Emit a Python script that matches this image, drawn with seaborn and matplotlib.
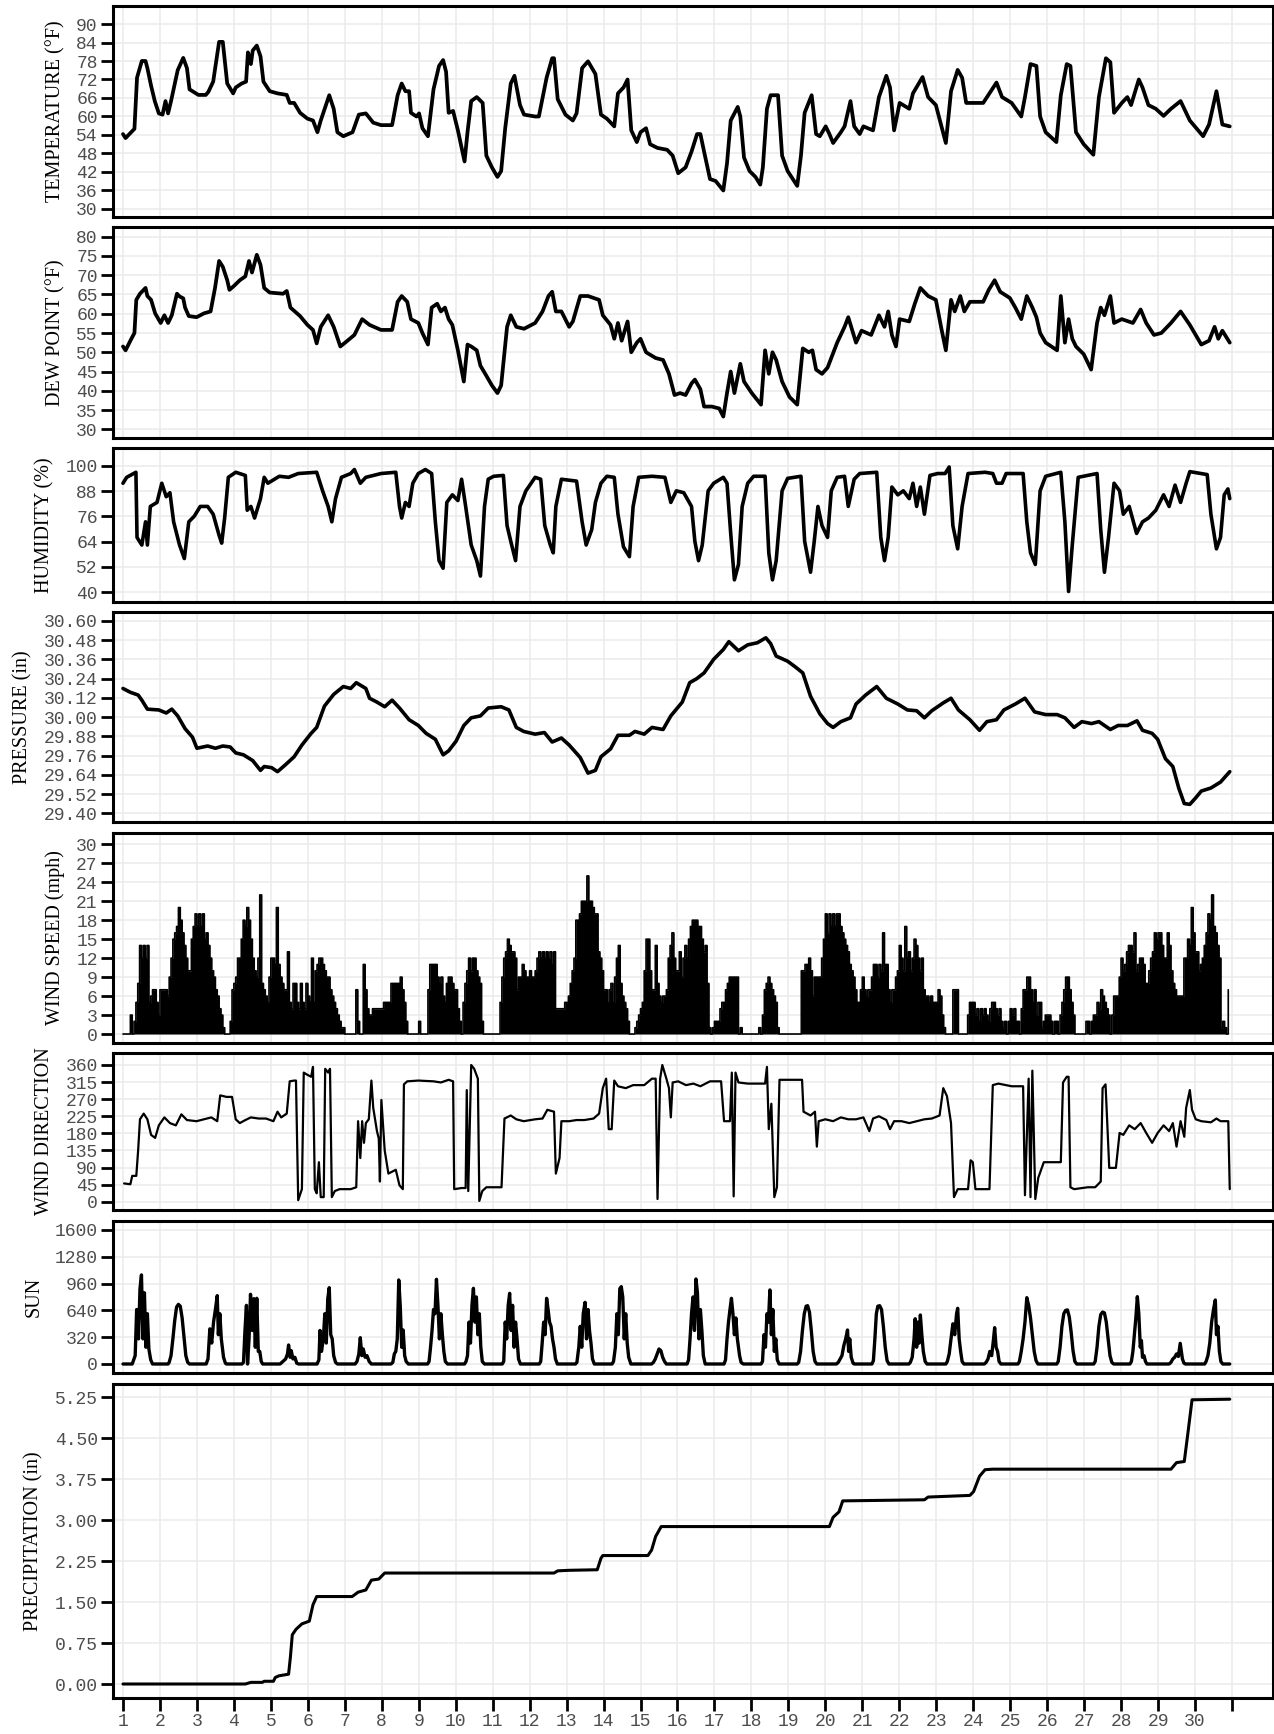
import numpy as np
import pandas as pd
import matplotlib
matplotlib.use("Agg")
import matplotlib.pyplot as plt
import seaborn as sns

# ---------------- data (day of month, value) ----------------
TEMP = [(1.00,54.3),(1.07,53.0),(1.31,56.0),(1.38,72.6),(1.51,78.0),(1.61,78.0),(1.66,75.7),(1.76,70.0),(1.86,65.0),(1.97,61.0),
        (2.07,60.6),(2.15,65.0),(2.22,61.0),(2.30,65.0),(2.48,75.0),(2.63,79.0),(2.73,75.7),(2.80,68.8),(3.04,67.0),(3.24,67.0),
        (3.31,68.0),(3.44,71.3),(3.60,84.2),(3.70,84.2),(3.82,70.7),(3.98,67.5),(4.05,69.4),(4.21,70.7),(4.33,71.3),(4.38,80.8),
        (4.46,77.0),(4.51,81.4),(4.62,83.0),(4.72,79.5),(4.80,71.3),(4.97,68.2),(5.18,67.5),(5.43,67.0),(5.51,64.4),(5.63,64.4),
        (5.79,61.2),(5.99,59.3),(6.14,58.7),(6.26,54.9),(6.35,58.7),(6.58,66.9),(6.70,62.5),(6.80,54.9),(6.96,53.6),(7.21,54.9),
        (7.38,60.6),(7.57,61.0),(7.77,58.0),(7.98,57.2),(8.28,57.2),(8.43,66.9),(8.54,70.7),(8.64,68.2),(8.74,68.2),(8.79,61.2),
        (8.94,60.0),(9.01,61.0),(9.10,56.2),(9.25,53.6),(9.40,68.8),(9.55,76.4),(9.66,78.3),(9.74,74.5),(9.81,61.2),(9.93,61.8),
        (10.06,55.5),(10.24,45.4),(10.32,54.9),(10.42,65.0),(10.57,66.3),(10.73,64.4),(10.83,47.3),(10.98,43.5),(11.13,40.4),(11.23,42.3),
        (11.34,56.2),(11.49,70.7),(11.59,73.2),(11.74,63.7),(11.85,60.6),(12.15,60.0),(12.25,60.0),(12.46,72.6),(12.61,78.9),(12.66,78.9),
        (12.76,65.6),(12.97,60.6),(13.17,58.7),(13.27,61.0),(13.42,75.7),(13.58,77.9),(13.78,73.8),(13.93,60.6),(14.09,59.3),(14.29,56.8),
        (14.39,67.5),(14.54,69.4),(14.65,72.0),(14.75,55.5),(14.90,51.7),(15.00,54.9),(15.15,56.2),(15.26,51.0),(15.46,49.8),(15.72,49.2),
        (15.87,47.3),(16.02,41.6),(16.22,43.5),(16.38,48.6),(16.53,54.3),(16.62,54.3),(16.72,48.6),(16.88,39.7),(17.03,39.1),(17.24,36.0),
        (17.34,44.8),(17.44,58.7),(17.63,63.1),(17.70,60.0),(17.80,46.7),(17.95,42.3),(18.11,40.4),(18.24,37.9),(18.31,43.5),(18.42,62.5),
        (18.52,66.9),(18.72,66.9),(18.83,47.3),(18.98,42.3),(19.24,37.5),(19.34,47.3),(19.44,61.2),(19.63,66.9),(19.75,54.3),(19.85,53.6),
        (20.01,56.8),(20.11,54.3),(20.21,51.4),(20.42,54.9),(20.52,56.8),(20.68,65.0),(20.78,56.8),(20.93,54.3),(21.03,56.8),(21.29,55.5),
        (21.45,66.3),(21.65,73.2),(21.75,69.4),(21.86,55.5),(22.01,64.4),(22.27,62.5),(22.37,67.5),(22.63,72.8),(22.78,66.3),(22.99,63.7),
        (23.26,51.4),(23.40,68.2),(23.58,75.1),(23.70,72.6),(23.81,64.4),(24.27,64.4),(24.63,71.0),(24.78,66.3),(25.04,64.4),(25.30,60.0),
        (25.40,66.3),(25.55,77.0),(25.71,76.4),(25.81,60.0),(25.96,54.9),(26.25,51.7),(26.37,66.9),(26.53,77.0),(26.63,76.4),(26.78,54.9),
        (26.99,51.0),(27.25,47.6),(27.40,66.3),(27.59,78.9),(27.71,77.6),(27.81,61.2),(28.02,64.4),(28.17,66.3),(28.27,63.7),(28.48,72.0),
        (28.58,69.4),(28.74,63.7),(28.94,62.5),(29.15,60.2),(29.35,62.5),(29.61,65.0),(29.86,58.7),(30.22,53.6),(30.38,57.4),(30.58,68.2),
        (30.74,57.4),(30.94,56.8)]

DEWPOINT = [(1.00,51.5),(1.07,50.5),(1.20,53.0),(1.31,55.0),(1.36,63.6),(1.46,65.2),(1.61,66.7),(1.66,64.6),(1.76,63.6),(1.87,60.1),
        (2.02,57.6),(2.12,59.6),(2.22,57.6),(2.32,59.6),(2.46,65.2),(2.53,64.5),(2.63,64.0),(2.68,61.6),(2.78,59.4),(2.99,59.1),
        (3.19,60.1),(3.37,60.6),(3.49,66.7),(3.60,73.7),(3.70,72.2),(3.82,68.7),(3.88,66.2),(4.00,67.2),(4.16,68.7),(4.31,69.7),
        (4.41,73.7),(4.49,70.7),(4.62,75.3),(4.72,72.7),(4.82,66.7),(4.97,65.5),(5.33,65.2),(5.43,65.9),(5.53,61.6),(5.79,59.4),
        (5.99,57.1),(6.14,55.8),(6.24,52.3),(6.35,56.6),(6.55,59.6),(6.70,56.6),(6.88,51.5),(7.01,52.5),(7.26,54.5),(7.47,58.6),
        (7.67,57.1),(7.98,55.8),(8.28,55.8),(8.43,63.1),(8.54,64.6),(8.69,63.1),(8.79,58.6),(8.99,57.6),(9.10,55.0),(9.25,52.0),
        (9.35,61.6),(9.50,62.6),(9.60,60.6),(9.71,61.6),(9.81,58.6),(9.91,57.1),(10.06,50.5),(10.22,42.4),(10.32,52.0),(10.42,51.5),
        (10.57,50.5),(10.67,46.5),(10.83,43.9),(10.98,41.4),(11.13,39.4),(11.23,41.4),(11.39,56.6),(11.49,59.6),(11.64,56.6),(11.85,56.1),
        (12.15,57.6),(12.35,60.6),(12.51,64.6),(12.61,65.7),(12.71,60.6),(12.86,60.6),(13.07,56.6),(13.17,58.0),(13.37,64.6),(13.58,64.6),
        (13.88,63.6),(13.98,59.6),(14.19,57.1),(14.29,53.5),(14.39,57.6),(14.49,53.0),(14.65,58.0),(14.75,50.0),(14.90,52.5),(15.00,53.5),
        (15.15,50.0),(15.41,48.5),(15.61,48.0),(15.77,44.4),(15.92,38.9),(16.07,39.4),(16.22,38.9),(16.38,41.9),(16.47,42.9),(16.62,40.4),
        (16.72,35.9),(16.93,35.9),(17.13,35.4),(17.24,33.3),(17.34,39.4),(17.44,45.0),(17.54,39.4),(17.70,47.0),(17.80,42.4),(18.01,39.4),
        (18.26,36.4),(18.37,50.5),(18.47,44.4),(18.57,50.0),(18.67,48.0),(18.83,42.4),(19.03,38.4),(19.24,36.4),(19.39,51.0),(19.55,50.0),
        (19.65,50.5),(19.75,45.5),(19.91,44.4),(20.06,46.0),(20.32,52.5),(20.52,56.6),(20.62,59.1),(20.83,52.5),(20.98,55.6),(21.24,54.5),
        (21.45,59.6),(21.60,56.6),(21.70,60.6),(21.80,54.5),(21.91,51.5),(22.01,58.6),(22.27,58.0),(22.42,62.6),(22.57,66.7),(22.78,64.6),
        (22.99,63.6),(23.14,56.1),(23.26,50.5),(23.40,63.6),(23.50,60.6),(23.65,64.6),(23.76,60.6),(23.91,63.1),(24.27,63.1),(24.42,66.2),
        (24.58,68.7),(24.73,65.7),(24.99,64.1),(25.14,61.6),(25.30,58.6),(25.45,64.6),(25.60,61.6),(25.71,59.1),(25.81,55.0),(25.96,52.5),
        (26.27,50.5),(26.37,64.6),(26.48,52.5),(26.58,58.6),(26.68,53.5),(26.78,51.5),(26.99,49.5),(27.19,45.5),(27.35,57.6),(27.45,61.6),
        (27.55,59.6),(27.71,64.6),(27.81,57.6),(28.02,58.6),(28.32,57.6),(28.53,61.1),(28.68,57.6),(28.89,54.5),(29.09,55.0),(29.35,57.6),
        (29.61,60.6),(29.86,57.1),(30.17,52.0),(30.38,53.0),(30.53,56.6),(30.63,53.5),(30.74,55.6),(30.94,52.5)]

HUMIDITY = [(1.00,91.7),(1.10,94.5),(1.35,96.9),(1.38,66.0),(1.51,62.4),(1.61,73.4),(1.66,62.4),(1.74,80.7),(1.92,82.6),(2.05,91.7),
        (2.17,85.3),(2.27,87.2),(2.37,73.4),(2.53,62.4),(2.66,56.0),(2.78,73.4),(2.93,76.1),(3.09,80.7),(3.29,80.7),(3.44,77.0),
        (3.60,67.0),(3.67,63.3),(3.75,75.2),(3.85,94.5),(4.05,96.9),(4.31,95.4),(4.36,78.9),(4.46,80.7),(4.56,75.2),(4.72,84.4),
        (4.82,94.5),(4.92,91.7),(5.23,95.0),(5.48,94.5),(5.74,96.3),(6.24,96.9),(6.40,88.1),(6.55,80.7),(6.65,73.4),(6.75,84.4),
        (6.91,94.5),(7.16,96.3),(7.26,98.2),(7.42,91.7),(7.57,94.5),(7.98,96.3),(8.38,96.9),(8.48,80.7),(8.54,75.2),(8.64,82.6),
        (8.74,80.7),(8.84,91.7),(8.99,96.3),(9.18,98.2),(9.35,96.3),(9.45,73.4),(9.55,55.0),(9.66,51.4),(9.76,82.6),(9.91,86.2),
        (10.06,83.5),(10.16,93.6),(10.27,80.7),(10.42,62.4),(10.57,55.0),(10.67,47.7),(10.78,80.7),(10.88,93.6),(11.03,95.0),(11.29,95.4),
        (11.39,71.6),(11.49,64.2),(11.62,55.0),(11.74,80.7),(11.90,88.1),(12.15,94.5),(12.30,93.6),(12.41,71.6),(12.56,62.4),(12.64,58.7),
        (12.71,80.7),(12.86,93.6),(13.27,92.7),(13.42,73.4),(13.53,62.4),(13.68,69.7),(13.78,82.6),(13.93,91.7),(14.09,95.0),(14.29,94.5),
        (14.39,77.0),(14.54,61.5),(14.70,56.9),(14.80,80.7),(14.95,94.5),(15.31,95.0),(15.66,94.5),(15.82,82.6),(15.97,88.1),(16.17,87.2),
        (16.38,80.7),(16.47,64.2),(16.57,55.0),(16.67,62.4),(16.83,88.1),(16.98,91.7),(17.24,94.5),(17.34,91.7),(17.44,67.9),(17.54,45.9),
        (17.65,53.2),(17.75,80.7),(17.90,91.7),(18.06,95.0),(18.37,95.0),(18.47,58.7),(18.57,45.9),(18.67,55.0),(18.83,88.1),(18.98,94.0),
        (19.34,95.0),(19.44,64.2),(19.60,49.5),(19.70,64.2),(19.80,80.7),(19.91,71.6),(20.06,66.0),(20.16,88.1),(20.32,94.5),(20.52,95.0),
        (20.62,80.7),(20.78,93.6),(20.93,96.3),(21.39,96.9),(21.50,66.0),(21.60,55.0),(21.70,66.0),(21.80,89.9),(21.96,86.2),(22.11,88.1),
        (22.27,84.4),(22.37,91.7),(22.47,80.7),(22.57,89.9),(22.68,77.0),(22.83,95.4),(23.04,96.3),(23.24,96.3),(23.35,99.4),(23.45,71.6),
        (23.58,60.6),(23.70,80.7),(23.86,96.3),(24.32,96.9),(24.53,96.3),(24.63,91.7),(24.78,91.7),(24.89,96.3),(25.35,96.3),(25.45,73.4),
        (25.55,58.7),(25.68,53.2),(25.81,88.1),(25.96,95.0),(26.37,96.9),(26.48,73.4),(26.58,40.4),(26.68,62.4),(26.84,94.5),(27.35,96.3),
        (27.45,69.7),(27.55,49.5),(27.66,66.0),(27.81,91.7),(27.96,88.1),(28.06,77.0),(28.22,80.7),(28.42,67.9),(28.58,73.4),(28.74,75.2),
        (28.94,78.9),(29.15,86.2),(29.30,80.7),(29.46,90.8),(29.61,82.6),(29.76,91.7),(29.86,97.2),(30.33,95.8),(30.43,77.0),(30.58,60.6),
        (30.69,66.0),(30.79,86.2),(30.89,89.0),(30.94,84.4)]

PRESSURE = [(1.00,30.179),(1.20,30.155),(1.41,30.138),(1.51,30.106),(1.66,30.050),(1.97,30.045),(2.17,30.026),(2.32,30.050),(2.48,30.008),
        (2.68,29.928),(2.88,29.875),(3.00,29.806),(3.29,29.820),(3.50,29.806),(3.70,29.820),(3.90,29.814),(4.05,29.777),(4.26,29.765),
        (4.51,29.729),(4.72,29.668),(4.82,29.692),(5.02,29.685),(5.18,29.660),(5.38,29.700),(5.63,29.753),(5.84,29.826),(6.09,29.899),
        (6.24,29.936),(6.45,30.069),(6.70,30.142),(6.96,30.191),(7.16,30.179),(7.31,30.215),(7.57,30.179),(7.67,30.118),(7.87,30.094),
        (8.08,30.065),(8.28,30.106),(8.48,30.057),(8.74,29.984),(8.99,29.948),(9.20,29.899),(9.45,29.862),(9.66,29.765),(9.81,29.790),
        (10.01,29.850),(10.22,29.948),(10.42,29.996),(10.67,30.008),(10.88,30.057),(11.23,30.065),(11.44,30.045),(11.64,29.936),(11.84,29.911),
        (12.15,29.894),(12.40,29.904),(12.61,29.845),(12.86,29.870),(13.07,29.826),(13.37,29.748),(13.58,29.651),(13.78,29.668),(13.93,29.753),
        (14.19,29.802),(14.39,29.887),(14.70,29.887),(14.85,29.911),(15.10,29.894),(15.31,29.936),(15.61,29.923),(15.82,30.008),(16.13,30.094),
        (16.33,30.215),(16.52,30.240),(16.72,30.276),(16.98,30.361),(17.24,30.422),(17.39,30.471),(17.65,30.414),(17.90,30.451),(18.16,30.464),
        (18.39,30.495),(18.52,30.459),(18.67,30.381),(18.98,30.349),(19.19,30.313),(19.39,30.276),(19.60,30.130),(19.85,30.021),(20.06,29.960),
        (20.21,29.936),(20.42,29.972),(20.68,29.996),(20.83,30.082),(21.09,30.138),(21.39,30.191),(21.65,30.118),(21.96,30.082),(22.22,30.045),
        (22.47,30.040),(22.68,29.996),(22.88,30.040),(23.19,30.089),(23.40,30.118),(23.60,30.045),(23.91,29.984),(24.17,29.918),(24.37,29.972),
        (24.63,29.984),(24.83,30.045),(25.14,30.082),(25.40,30.118),(25.66,30.033),(25.96,30.016),(26.27,30.016),(26.48,29.996),(26.73,29.936),
        (26.94,29.972),(27.20,29.960),(27.40,29.972),(27.71,29.923),(27.92,29.948),(28.17,29.948),(28.43,29.977),(28.58,29.918),(28.84,29.899),
        (28.99,29.862),(29.20,29.741),(29.40,29.692),(29.56,29.558),(29.71,29.461),(29.86,29.456),(30.02,29.497),(30.17,29.539),(30.43,29.558),
        (30.69,29.595),(30.94,29.660)]

# wind speed, 20 readings per day (every 1.2 h), day 1 .. day 30
WIND_SPEED_BY_DAY = [
    [0,0,0,0,3,0,2,5,8,14,12,14,12,14,5,6,7,7,5,3],
    [7,7,7,7,6,9,12,15,16,17,20,18,16,14,12,10,10,15,17,19],
    [17,19,17,19,15,16,14,12,10,9,7,6,4,3,1,0,0,0,2,7],
    [8,9,12,12,15,18,17,20,18,15,12,10,9,12,22,8,7,6,5,9],
    [12,12,11,20,11,9,8,7,7,13,5,4,8,8,5,4,8,5,4,8],
    [6,5,12,5,10,11,12,12,11,10,9,9,7,6,5,4,3,2,1,1],
    [0,0,0,0,0,0,7,2,0,0,11,7,4,3,3,4,4,4,4,4],
    [4,5,5,5,5,8,8,8,8,8,9,7,5,2,0,0,0,0,0,0],
    [2,0,0,0,0,7,11,11,11,11,9,8,9,6,5,8,9,9,8,7],
    [7,4,2,0,5,8,10,12,10,12,12,10,9,8,2,0,0,0,0,0],
    [0,0,0,0,5,9,12,13,15,14,13,13,12,7,9,9,11,10,9,9],
    [10,9,9,10,12,13,12,13,12,13,12,13,11,13,4,4,4,4,4,5],
    [5,6,8,10,12,18,18,19,21,21,21,25,21,21,20,19,19,13,12,10],
    [7,7,5,7,8,5,9,12,14,8,6,5,4,2,0,0,0,1,2,3],
    [4,5,10,15,15,10,7,7,14,8,6,5,6,6,7,12,14,16,12,10],
    [10,13,9,12,14,12,15,17,18,18,18,17,17,15,13,14,8,1,0,1],
    [2,2,2,4,5,5,7,8,9,9,9,9,9,0,1,0,0,0,0,0],
    [0,0,0,0,1,0,3,7,8,9,8,7,6,5,1,0,0,0,0,0],
    [0,0,0,0,0,0,0,10,10,11,11,12,10,6,9,9,9,9,12,15],
    [19,16,19,17,19,17,19,19,17,16,15,14,13,11,10,9,7,5,5,7],
    [9,7,6,7,7,9,11,11,9,11,10,16,11,11,7,5,7,7,9,10],
    [14,12,10,17,12,13,10,12,15,14,12,10,12,7,6,6,5,6,5,5],
    [5,7,6,3,1,0,0,0,0,7,7,7,0,0,0,0,0,3,5,5],
    [5,3,4,2,4,3,4,3,2,4,5,5,4,3,4,2,1,2,0,2],
    [4,3,4,2,2,0,4,7,7,9,9,7,5,7,3,5,5,1,2,3],
    [3,3,2,0,2,2,0,3,5,7,9,9,7,5,3,0,0,0,0,0],
    [0,2,2,0,2,3,3,5,4,7,6,5,4,3,0,3,6,6,6,9],
    [12,10,11,13,14,14,13,16,10,11,12,12,11,8,8,10,12,13,16,15],
    [16,16,14,12,12,16,14,10,8,7,6,6,6,6,12,12,15,14,20,16],
    [13,13,10,11,12,14,16,19,18,22,17,16,14,12,1,2,1,0,7],
]

WIND_DIR = [(1.03,48),(1.20,46),(1.25,68),(1.36,68),(1.41,135),(1.46,217),(1.56,232),(1.66,217),(1.76,176),(1.87,168),(1.97,201),
        (2.12,222),(2.27,207),(2.43,201),(2.58,230),(2.73,215),(2.99,212),(3.19,217),(3.39,222),(3.55,212),(3.63,280),(3.80,276),
        (3.95,276),(4.05,217),(4.16,207),(4.31,215),(4.46,222),(4.67,219),(4.87,219),(5.07,212),(5.18,237),(5.28,222),(5.43,232),
        (5.51,317),(5.63,319),(5.68,319),(5.74,4),(5.84,33),(5.89,340),(5.99,334),(6.09,329),(6.14,355),(6.19,33),(6.24,22),
        (6.30,104),(6.35,12),(6.43,12),(6.47,350),(6.55,340),(6.60,350),(6.65,12),(6.73,28),(6.86,33),(7.16,33),(7.31,38),
        (7.36,212),(7.42,115),(7.47,212),(7.52,155),(7.57,207),(7.65,217),(7.72,319),(7.77,247),(7.87,186),(7.92,166),(7.95,53),
        (7.99,268),(8.08,135),(8.18,74),(8.38,84),(8.48,43),(8.57,33),(8.60,309),(8.69,317),(8.99,319),(9.40,317),(9.60,314),
        (9.81,321),(9.93,317),(9.96,33),(10.16,36),(10.27,36),(10.30,294),(10.34,28),(10.42,360),(10.50,350),(10.60,324),(10.64,2),
        (10.72,28),(10.83,38),(11.24,38),(11.32,219),(11.49,227),(11.64,217),(11.84,212),(12.15,217),(12.35,219),(12.48,242),
        (12.66,237),(12.71,74),(12.81,115),(12.86,212),(13.07,212),(13.27,215),(13.48,215),(13.73,219),(13.88,232),(13.98,299),
        (14.07,324),(14.14,191),(14.22,191),(14.29,319),(14.39,304),(14.60,299),(14.80,307),(15.10,307),(15.31,324),(15.41,324),
        (15.46,7),(15.53,324),(15.59,360),(15.70,324),(15.77,299),(15.82,222),(15.87,314),(16.02,317),(16.23,307),(16.43,311),
        (16.62,304),(16.88,317),(17.18,317),(17.26,212),(17.42,212),(17.47,340),(17.52,14),(17.57,340),(17.65,314),(17.90,311),
        (18.37,311),(18.42,355),(18.47,191),(18.54,258),(18.62,12),(18.69,38),(18.76,321),(18.93,321),(19.37,321),(19.41,237),
        (19.60,227),(19.72,237),(19.77,145),(19.82,212),(20.00,217),(20.21,212),(20.42,222),(20.62,217),(20.83,217),(21.03,222),
        (21.19,186),(21.29,219),(21.45,225),(21.65,215),(21.75,191),(21.86,212),(22.06,212),(22.27,207),(22.47,212),(22.68,217),
        (22.88,219),(23.09,227),(23.19,299),(23.29,278),(23.40,207),(23.48,12),(23.58,33),(23.86,33),(23.93,109),(23.99,104),
        (24.06,33),(24.44,33),(24.53,307),(24.68,311),(25.04,304),(25.35,304),(25.40,17),(25.50,324),(25.55,12),(25.60,345),
        (25.68,7),(25.76,63),(25.91,104),(26.37,104),(26.43,314),(26.53,329),(26.58,329),(26.63,38),(26.73,33),(27.10,38),
        (27.30,38),(27.45,53),(27.50,299),(27.58,309),(27.68,89),(27.86,89),(27.96,181),(28.06,176),(28.22,201),(28.37,191),
        (28.53,207),(28.68,181),(28.84,155),(28.99,181),(29.15,201),(29.30,186),(29.40,207),(29.50,145),(29.61,212),(29.71,171),
        (29.76,247),(29.86,294),(29.92,242),(30.02,217),(30.17,212),(30.43,209),(30.58,219),(30.69,212),(30.90,212),(30.94,33)]

SUN = [(1.00,0),(1.25,0),(1.29,50),(1.33,100),(1.37,650),(1.42,300),(1.46,900),(1.50,1063),(1.54,300),(1.58,850),(1.62,200),(1.66,600),(1.70,180),(1.75,50),(1.80,0),
       (2.22,0),(2.25,20),(2.30,100),(2.35,300),(2.40,520),(2.45,680),(2.50,712),(2.55,690),(2.60,550),(2.65,320),(2.70,100),(2.75,20),(2.80,0),
       (3.25,0),(3.30,60),(3.35,420),(3.40,250),(3.45,500),(3.50,650),(3.55,816),(3.58,350),(3.62,600),(3.66,300),(3.72,80),(3.77,10),(3.80,0),
       (4.22,0),(4.26,20),(4.30,400),(4.34,700),(4.37,0),(4.41,300),(4.45,832),(4.50,400),(4.54,780),(4.58,200),(4.62,784),(4.66,150),(4.70,150),(4.74,30),(4.78,0),
       (5.25,0),(5.30,20),(5.40,60),(5.45,120),(5.48,227),(5.52,80),(5.55,160),(5.60,60),(5.65,80),(5.70,10),(5.75,0),
       (6.25,0),(6.30,50),(6.33,400),(6.37,150),(6.42,300),(6.46,600),(6.50,250),(6.54,780),(6.58,911),(6.62,350),(6.66,300),(6.70,100),(6.75,20),(6.80,0),
       (7.28,0),(7.33,30),(7.38,120),(7.42,314),(7.46,100),(7.50,180),(7.55,80),(7.60,100),(7.66,30),(7.72,0),
       (8.25,0),(8.30,20),(8.34,120),(8.38,150),(8.42,300),(8.46,1003),(8.50,700),(8.54,200),(8.58,406),(8.62,100),(8.66,30),(8.72,0),
       (9.24,0),(9.28,30),(9.32,200),(9.36,400),(9.40,650),(9.44,600),(9.48,1011),(9.52,700),(9.56,300),(9.60,600),(9.64,350),(9.68,150),(9.72,30),(9.78,0),
       (10.24,0),(10.28,30),(10.32,100),(10.36,500),(10.40,250),(10.44,700),(10.48,903),(10.52,500),(10.56,800),(10.60,350),(10.64,600),(10.68,200),(10.72,30),(10.78,0),
       (11.26,0),(11.30,30),(11.34,500),(11.38,300),(11.42,700),(11.46,844),(11.50,400),(11.54,700),(11.58,200),(11.62,500),(11.66,300),(11.70,60),(11.75,0),
       (12.26,0),(12.30,30),(12.34,250),(12.38,500),(12.42,350),(12.46,784),(12.50,650),(12.54,500),(12.58,450),(12.62,300),(12.66,200),(12.70,60),(12.75,0),
       (13.24,0),(13.28,20),(13.33,200),(13.37,450),(13.41,200),(13.45,600),(13.50,736),(13.54,300),(13.58,650),(13.62,400),(13.66,250),(13.70,60),(13.75,0),
       (14.23,0),(14.27,30),(14.32,200),(14.36,600),(14.40,350),(14.44,900),(14.48,923),(14.52,800),(14.56,300),(14.60,600),(14.64,250),(14.68,80),(14.74,0),
       (15.30,0),(15.35,20),(15.40,60),(15.45,120),(15.50,179),(15.55,160),(15.60,80),(15.65,30),(15.70,0),
       (16.26,0),(16.30,50),(16.34,300),(16.38,600),(16.42,800),(16.46,400),(16.50,1015),(16.54,850),(16.58,300),(16.62,650),(16.66,400),(16.70,100),(16.75,0),
       (17.26,0),(17.30,50),(17.34,300),(17.38,500),(17.42,650),(17.46,784),(17.50,600),(17.54,350),(17.58,550),(17.62,300),(17.68,100),(17.72,20),(17.78,0),
       (18.26,0),(18.30,30),(18.34,350),(18.38,200),(18.42,600),(18.46,500),(18.50,884),(18.54,350),(18.58,650),(18.62,150),(18.66,300),(18.70,50),(18.75,0),
       (19.24,0),(19.28,20),(19.33,150),(19.38,400),(19.43,600),(19.48,690),(19.52,696),(19.57,620),(19.62,400),(19.67,150),(19.72,30),(19.77,0),
       (20.30,0),(20.35,20),(20.40,60),(20.45,100),(20.50,220),(20.55,300),(20.60,406),(20.63,150),(20.66,300),(20.70,80),(20.75,10),(20.78,0),
       (21.26,0),(21.30,40),(21.34,300),(21.38,600),(21.42,690),(21.47,696),(21.52,650),(21.57,450),(21.62,200),(21.67,40),(21.72,0),
       (22.26,0),(22.30,20),(22.35,80),(22.40,300),(22.43,540),(22.47,200),(22.50,500),(22.54,250),(22.57,585),(22.61,350),(22.65,150),(22.70,30),(22.75,0),
       (23.26,0),(23.30,30),(23.35,120),(23.40,300),(23.45,480),(23.50,350),(23.55,600),(23.58,665),(23.62,300),(23.66,150),(23.70,30),(23.75,0),
       (24.30,0),(24.35,20),(24.40,60),(24.45,150),(24.50,100),(24.55,300),(24.58,434),(24.62,200),(24.66,150),(24.70,30),(24.75,0),
       (25.21,0),(25.25,30),(25.30,150),(25.35,300),(25.40,500),(25.45,792),(25.50,700),(25.55,550),(25.60,350),(25.65,150),(25.70,40),(25.75,0),
       (26.26,0),(26.30,30),(26.35,200),(26.40,450),(26.45,600),(26.50,640),(26.55,645),(26.60,560),(26.65,380),(26.70,160),(26.75,30),(26.80,0),
       (27.26,0),(27.30,30),(27.35,200),(27.40,450),(27.45,590),(27.50,620),(27.55,610),(27.60,500),(27.65,300),(27.70,100),(27.75,20),(27.80,0),
       (28.24,0),(28.28,30),(28.32,150),(28.36,350),(28.40,550),(28.44,804),(28.48,600),(28.52,200),(28.55,280),(28.58,80),(28.62,100),(28.66,30),(28.70,0),
       (29.30,0),(29.35,20),(29.40,60),(29.45,80),(29.50,120),(29.55,90),(29.60,247),(29.63,150),(29.66,60),(29.70,10),(29.74,0),
       (30.26,0),(30.30,30),(30.35,100),(30.40,250),(30.45,500),(30.50,650),(30.55,764),(30.58,350),(30.62,450),(30.66,150),(30.70,30),(30.75,0),(30.94,0)]

PRECIP = [(1.00,0.00),(4.31,0.00),(4.46,0.03),(4.77,0.03),(4.82,0.05),(5.07,0.05),(5.12,0.12),(5.22,0.15),(5.48,0.18),(5.53,0.50),
          (5.58,0.90),(5.68,1.00),(5.84,1.10),(6.04,1.15),(6.14,1.45),(6.24,1.60),(7.20,1.60),(7.36,1.68),(7.57,1.72),(7.72,1.90),
          (7.92,1.92),(8.08,2.03),(12.66,2.03),(12.76,2.07),(13.07,2.08),(13.83,2.09),(13.93,2.30),(13.98,2.35),(15.20,2.35),(15.30,2.45),
          (15.41,2.70),(15.56,2.88),(20.11,2.88),(20.21,3.05),(20.37,3.15),(20.47,3.35),(22.68,3.37),(22.78,3.42),(23.91,3.45),(24.01,3.52),
          (24.17,3.80),(24.32,3.92),(24.53,3.93),(29.35,3.93),(29.50,4.05),(29.71,4.07),(29.81,4.60),(29.92,5.20),(30.02,5.20),(30.94,5.21)]

# axis ticks / labels
X_TICKS = list(range(1, 32))
X_TICK_LABELS = [str(d) for d in range(1, 31)] + [""]
TEMP_TICKS = [30, 36, 42, 48, 54, 60, 66, 72, 78, 84, 90]
DEW_TICKS = [30, 35, 40, 45, 50, 55, 60, 65, 70, 75, 80]
HUM_TICKS = [40, 52, 64, 76, 88, 100]
PRES_TICKS = [29.40, 29.52, 29.64, 29.76, 29.88, 30.00, 30.12, 30.24, 30.36, 30.48, 30.60]
WSPD_TICKS = [0, 3, 6, 9, 12, 15, 18, 21, 24, 27, 30]
WDIR_TICKS = [0, 45, 90, 135, 180, 225, 270, 315, 360]
SUN_TICKS = [0, 320, 640, 960, 1280, 1600]
PREC_TICKS = [0.00, 0.75, 1.50, 2.25, 3.00, 3.75, 4.50, 5.25]
LABELS = ["TEMPERATURE (°F)", "DEW POINT (°F)", "HUMIDITY (%)", "PRESSURE (in)",
          "WIND SPEED (mph)", "WIND DIRECTION", "SUN", "PRECIPITATION (in)"]


def frame(pairs):
    return pd.DataFrame(pairs, columns=["day", "value"])


wind_rows = []
for d, vals in enumerate(WIND_SPEED_BY_DAY, start=1):
    for i, v in enumerate(vals):
        wind_rows.append((d + i / 20.0, v))
wind_df = frame(wind_rows)

# ---------------- figure ----------------
sns.set_theme(style="white")
plt.rcParams['font.family'] = ['Liberation Mono', 'DejaVu Sans Mono']

W, H = 1274.0, 1734.0
fig = plt.figure(figsize=(W / 100, H / 100), dpi=100)
LEFT, RIGHT = 113, 1273
rows = [(6, 217), (227, 438), (448, 602), (612, 822), (833, 1043), (1053, 1210), (1221, 1373), (1384, 1698)]

panels = [
    (frame(TEMP), TEMP_TICKS, (27.4, 95.84), "{:.0f}", 2.7),
    (frame(DEWPOINT), DEW_TICKS, (27.74, 82.52), "{:.0f}", 2.7),
    (frame(HUMIDITY), HUM_TICKS, (35.4, 108.4), "{:.0f}", 2.6),
    (frame(PRESSURE), PRES_TICKS, (29.346, 30.656), "{:.2f}", 2.6),
    (wind_df, WSPD_TICKS, (-1.42, 31.79), "{:.0f}", 1.2),
    (frame(WIND_DIR), WDIR_TICKS, (-21.9, 391.6), "{:.0f}", 1.6),
    (frame(SUN), SUN_TICKS, (-107.5, 1707), "{:.0f}", 2.4),
    (frame(PRECIP), PREC_TICKS, (-0.256, 5.488), "{:.2f}", 2.2),
]

for k, ((top, bot), (df, yt, ylim, fmt, lw), lab) in enumerate(zip(rows, panels, LABELS)):
    ax = fig.add_axes([LEFT / W, 1 - bot / H, (RIGHT - LEFT) / W, (bot - top) / H])
    ax.set_facecolor("white")
    ax.grid(True, color="#ebebeb", linewidth=1.1)
    ax.set_axisbelow(True)
    if k == 4:
        ax.fill_between(df["day"], 0, df["value"], step="post", color="black", linewidth=0)
        sns.lineplot(data=df, x="day", y="value", ax=ax, color="black", linewidth=lw,
                     drawstyle="steps-post", estimator=None, sort=False)
    else:
        sns.lineplot(data=df, x="day", y="value", ax=ax, color="black", linewidth=lw,
                     estimator=None, sort=False)
    ax.set_xlim(0.73, 32.11)
    ax.set_ylim(*ylim)
    ax.set_xticks(X_TICKS)
    ax.set_yticks(yt)
    ax.set_yticklabels([fmt.format(v) for v in yt])
    for s in ax.spines.values():
        s.set_visible(True)
        s.set_color("black")
        s.set_linewidth(2.2)
    ax.tick_params(axis="y", direction="out", length=9, width=2.0, color="black",
                   labelcolor="#4d4d4d", labelsize=13, pad=2, left=True)
    if k == len(rows) - 1:
        ax.set_xticklabels(X_TICK_LABELS)
        ax.tick_params(axis="x", direction="out", length=9, width=2.0, color="black",
                       labelcolor="#4d4d4d", labelsize=13, pad=2, bottom=True)
    else:
        ax.tick_params(axis="x", length=0, labelbottom=False)
    ax.set_xlabel("")
    ax.set_ylabel(lab, fontfamily="Liberation Serif", fontsize=14.5, color="black", labelpad=8)

fig.savefig("out.png", dpi=100, facecolor="white")
